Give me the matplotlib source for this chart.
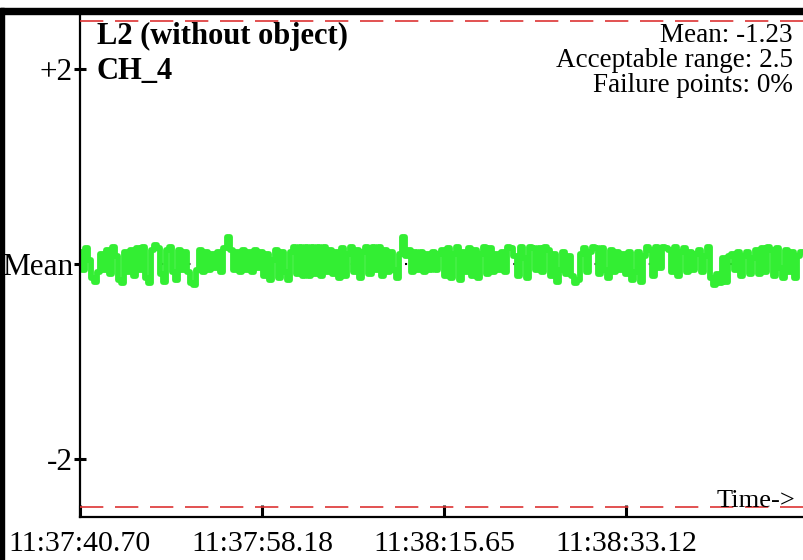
import matplotlib
matplotlib.use("Agg")
import matplotlib.pyplot as plt
from matplotlib.patches import Rectangle
import numpy as np

plt.rcParams['font.family'] = ['Liberation Serif', 'DejaVu Serif']

# channel info
title = "L2 (without object)"
channel = "CH_4"
mean_value = -1.23
acceptable_range = 2.5
failure_pct = 0

# time axis
tick_labels = ["11:37:40.70", "11:37:58.18", "11:38:15.65", "11:38:33.12"]
tick_step = 17.475        # seconds between labelled ticks
sample_period = 0.29      # seconds between samples

# deviation from mean, in hundredths
deviation = [
    12, -6, 16, 4, -14, -18, -8, 10, -6, 14, -10, 18, 8, -16, -20, 12, -8, 14, -12, 16,
    -6, 18, -14, -20, 14, 20, 16, -10, -18, 14, 18, -8, -16, 14, -6, 12, -8, -20, -22, -6,
    14, -8, 12, -6, 10, -4, 12, -8, 16, 28, 14, -6, 12, -8, 14, -6, 12, -8, 14, -4,
    12, -12, 10, -16, 4, 14, -14, 12, -8, -16, 12, 18, -10, 18, -12, 18, -12, 18, -10, 18,
    -12, 18, -8, 14, -10, 12, -14, 16, -12, 10, 18, -8, 14, -14, 12, 18, -10, 18, -6, 18,
    -12, 14, -8, 12, -6, -14, 10, 28, 8, 14, -8, 12, -6, 12, -8, 10, -6, 12, -6, 10,
    14, -12, 16, -14, 10, 18, -16, 12, -8, 16, -12, 14, -14, 10, 18, -10, 16, -8, 10, -6,
    12, -8, 18, 16, 8, -12, 18, 6, -14, 18, 16, -6, 16, -8, 18, 14, -12, 10, -18, -6,
    12, -10, 8, -12, -20, -16, 10, 16, -8, 12, 18, 16, -10, 16, -6, -14, 14, -8, 12, -6,
    10, -10, 12, -16, -8, 12, -18, 8, 18, 14, -12, 18, -4, 18, 16, 14, -8, 18, -12, 12,
    16, -8, 12, -6, 10, 14, -8, 8, 18, -14, -22, -10, -20, 6, -18, 8, 10, -6, 12, -12,
    8, 12, -10, 6, 14, -10, 16, -8, 18, 14, -12, 16, -4, -14, 14, -8, 12, -14, 8, 12,
]

t = np.arange(len(deviation)) * sample_period
y = mean_value + np.array(deviation) / 100.0

fig = plt.figure(figsize=(8.04, 5.6), dpi=100)
ax = fig.add_axes([80 / 804, 43 / 560, 750 / 804, 503 / 560])

ax.axhline(mean_value, color='black', lw=1.5, linestyle=(0, (1, 12)), zorder=1)
ax.plot(t, y, color='#33ee33', lw=4.2, drawstyle='steps-mid', zorder=2)
for lim in (mean_value + acceptable_range, mean_value - acceptable_range):
    ax.axhline(lim, color='#dd3333', lw=1.2, linestyle=(0, (14, 7)), zorder=3)

ax.set_xlim(0, 72.0)
ax.set_ylim(mean_value - 2.6, mean_value + 2.57)

ax.set_yticks([mean_value + 2, mean_value, mean_value - 2])
ax.set_yticklabels(["+2", "Mean", "-2"])
ax.set_xticks(np.arange(len(tick_labels)) * tick_step)
ax.set_xticklabels(tick_labels)

ax.tick_params(axis='y', direction='inout', length=8, width=2.2, labelsize=22.5, pad=1)
ax.tick_params(axis='x', direction='in', length=9, width=2.2, labelsize=21.5, pad=10)
for s in ('top', 'right'):
    ax.spines[s].set_visible(False)
for s in ('left', 'bottom'):
    ax.spines[s].set_linewidth(1.6)

ax.text(97 / 804, 1 - 44 / 560, title, transform=fig.transFigure,
        fontsize=22, fontweight='bold', va='baseline', ha='left')
ax.text(97 / 804, 1 - 79 / 560, channel, transform=fig.transFigure,
        fontsize=22, fontweight='bold', va='baseline', ha='left')
info = ["Mean: %.2f" % mean_value,
        "Acceptable range: %.1f" % acceptable_range,
        "Failure points: %d%%" % failure_pct]
for i, line in enumerate(info):
    ax.text(793 / 804, 1 - (42 + 25 * i) / 560, line, transform=fig.transFigure,
            fontsize=19.5, va='baseline', ha='right')
ax.text(795 / 804, 1 - 507 / 560, "Time->", transform=fig.transFigure, fontsize=19,
        va='baseline', ha='right')

# panel frame pieces from the surrounding screenshot
fig.add_artist(Rectangle((0, 546 / 560), 1, 6 / 560, transform=fig.transFigure,
                         color='black', zorder=5))
fig.add_artist(Rectangle((0, 0), 4 / 804, 552 / 560, transform=fig.transFigure,
                         color='black', zorder=5))

fig.savefig("out.png", dpi=100)
